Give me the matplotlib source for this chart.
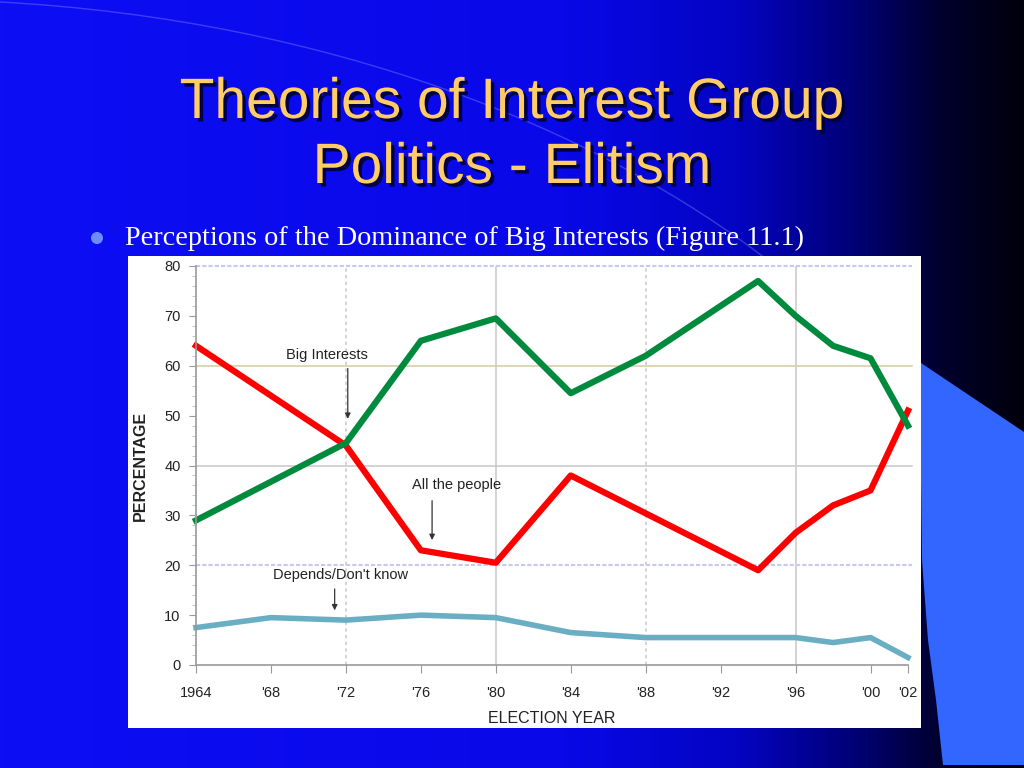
import matplotlib.pyplot as plt
import numpy as np
from matplotlib.path import Path
from matplotlib.patches import PathPatch, Rectangle, Circle
import matplotlib.patheffects as pe

# values (percent)
big_years = [1964, 1972, 1976, 1980, 1984, 1988, 1994, 1996, 1998, 2000, 2002]
big_interests = [29, 44.5, 65, 69.5, 54.5, 62, 77, 70, 64, 61.5, 48]

people_years = [1964, 1972, 1976, 1980, 1984, 1994, 1996, 1998, 2000, 2002]
all_people = [64, 44, 23, 20.5, 38, 19, 26.5, 32, 35, 51]

dk_years = [1964, 1968, 1972, 1976, 1980, 1984, 1988, 1996, 1998, 2000, 2002]
depends = [7.5, 9.5, 9, 10, 9.5, 6.5, 5.5, 5.5, 4.5, 5.5, 1.5]

xticks = [1964, 1968, 1972, 1976, 1980, 1984, 1988, 1992, 1996, 2000, 2002]
xtick_labels = ["1964", "'68", "'72", "'76", "'80", "'84", "'88", "'92", "'96", "'00", "'02"]
yticks = list(range(0, 81, 10))

W, H = 1024, 768
fig = plt.figure(figsize=(W / 100, H / 100), dpi=100)

# slide background
bg = fig.add_axes([0, 0, 1, 1])
bg.set_xlim(0, W)
bg.set_ylim(H, 0)
bg.axis("off")

pos = np.linspace(0, 1, 512)
stops = [0, 0.55, 0.72, 0.84, 0.92, 1.0]
r = np.interp(pos, stops, [14, 8, 4, 0, 0, 0])
g = np.interp(pos, stops, [14, 8, 4, 0, 0, 0])
b = np.interp(pos, stops, [245, 232, 195, 115, 45, 12])
grad = np.stack([r, g, b], axis=-1)[None, :, :] / 255.0
bg.imshow(grad, extent=(0, W, H, 0), aspect="auto", zorder=0)

# faint arc across the top
arc = Path([(0, 2), (330, 20), (600, 130), (770, 262)],
           [Path.MOVETO, Path.CURVE4, Path.CURVE4, Path.CURVE4])
bg.add_patch(PathPatch(arc, fc="none", ec="#8fa0ff", lw=1.0, alpha=0.35, zorder=1))

# light blue shape lower right
verts = [(921, 363), (1024, 432), (1024, 765), (943, 765),
         (936, 700), (928, 640), (922, 560), (921, 480), (921, 363)]
bg.add_patch(plt.Polygon(verts, closed=True, fc="#3366ff", ec="none", zorder=1))

# title
title_fx = [pe.withSimplePatchShadow(offset=(2.5, -2.5), shadow_rgbFace="#000033", alpha=0.9)]
bg.text(512, 103, "Theories of Interest Group", ha="center", va="center",
        fontsize=41, color="#ffcc66", family="Liberation Sans", path_effects=title_fx, zorder=3)
bg.text(512, 168, "Politics - Elitism", ha="center", va="center",
        fontsize=41, color="#ffcc66", family="Liberation Sans", path_effects=title_fx, zorder=3)

# bullet line
bg.add_patch(Circle((97, 238), 6, fc="#6f8cff", ec="none", zorder=3))
bg.text(125, 238, "Perceptions of the Dominance of Big Interests (Figure 11.1)",
        ha="left", va="center", fontsize=20.3, color="white",
        family="Liberation Serif", zorder=3)

# white picture area
bg.add_patch(Rectangle((128, 256), 793, 472, fc="white", ec="none", zorder=2))

# chart
ax = fig.add_axes([196 / W, 1 - 665 / H, 712 / W, 399 / H])
ax.patch.set_visible(False)
ax.set_xlim(1964, 2002)
ax.set_ylim(0, 80)

# grid lines
ax.axhline(80, color="#c8c8f0", lw=1.5, ls=(0, (2, 1)), xmax=1.006, clip_on=False)
ax.axhline(60, color="#d8d0a8", lw=1.2, xmax=1.006, clip_on=False)
ax.axhline(40, color="#cccccc", lw=1.2, xmax=1.006, clip_on=False)
ax.axhline(20, color="#c8c8f0", lw=1.5, ls=(0, (2, 1)), xmax=1.006, clip_on=False)
ax.axvline(1972, color="#cccccc", lw=1.2, ls=(0, (2, 2)))
ax.axvline(1980, color="#cccccc", lw=1.2)
ax.axvline(1988, color="#cccccc", lw=1.2, ls=(0, (2, 2)))
ax.axvline(1996, color="#cccccc", lw=1.2)

ax.plot(dk_years, depends, color="#6aaec4", lw=4, solid_joinstyle="round", clip_on=False)
ax.plot(people_years, all_people, color="#ff0000", lw=4.5, clip_on=False)
ax.plot(big_years, big_interests, color="#008a3e", lw=4.5, clip_on=False)

lab_font = dict(family="Liberation Sans", color="#222222")
arrow = dict(arrowstyle="-|>", color="#333333", lw=0.9, mutation_scale=8)
ax.annotate("", xy=(1972.1, 48.8), xytext=(1972.1, 60), arrowprops=arrow)
ax.text(1971.0, 62.2, "Big Interests", ha="center", va="center", fontsize=10.5, **lab_font)
ax.annotate("", xy=(1976.6, 24.5), xytext=(1976.6, 33.5), arrowprops=arrow)
ax.text(1977.9, 36, "All the people", ha="center", va="center", fontsize=10.5, **lab_font)
ax.annotate("", xy=(1971.4, 10.4), xytext=(1971.4, 15.8), arrowprops=arrow)
ax.text(1971.7, 18.1, "Depends/Don't know", ha="center", va="center", fontsize=10.5, **lab_font)

for side in ["top", "right"]:
    ax.spines[side].set_visible(False)
for side in ["left", "bottom"]:
    ax.spines[side].set_color("#999999")
    ax.spines[side].set_linewidth(1.2)

ax.set_xticks(xticks)
ax.set_xticklabels(xtick_labels, fontsize=10.5, **lab_font)
ax.set_yticks(yticks)
ax.set_yticklabels([str(v) for v in yticks], fontsize=10.5, **lab_font)
ax.set_yticks(np.arange(0, 81, 2), minor=True)
ax.tick_params(axis="x", direction="out", length=6, color="#999999", pad=9)
ax.tick_params(axis="y", which="major", direction="out", length=5, color="#999999", pad=6)
ax.tick_params(axis="y", which="minor", direction="out", length=3, color="#bbbbbb")

ax.set_xlabel("ELECTION YEAR", fontsize=11.5, labelpad=8, **lab_font)
ax.set_ylabel("PERCENTAGE", fontsize=11.5, labelpad=12, fontweight="bold", **lab_font)

fig.savefig("out.png", dpi=100)
